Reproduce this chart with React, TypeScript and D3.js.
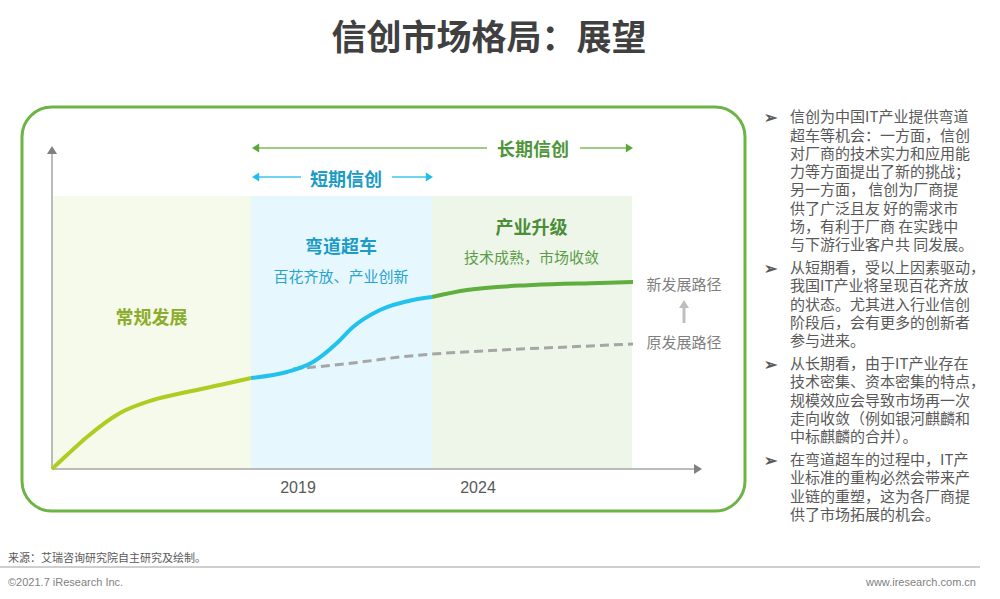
import React from "react";
import * as d3 from "d3";

// ---- data (unitless time / level) ----
const stageNames = ["常规发展", "弯道超车", "产业升级"];
const stageSubs = ["", "百花齐放、产业创新", "技术成熟，市场收敛"];
const stageBounds = [0, 19.9, 38.0, 58.0];

const normalPath: [number, number][] = [
  [0, 0], [1.5, 1.4], [3.5, 3.2], [6.8, 5.6], [10.1, 6.9], [13.5, 7.7], [16.8, 8.4], [19.9, 9.1],
];
const cornerPath: [number, number][] = [
  [19.9, 9.1], [23.5, 9.7], [26.1, 10.7], [28.5, 12.6], [30.1, 14.2], [32.8, 15.9], [36.1, 16.9], [38.0, 17.2],
];
const upgradePath: [number, number][] = [
  [38.0, 17.2], [41.5, 17.9], [48.1, 18.4], [54.8, 18.6], [58.1, 18.7],
];
const originalPath: [number, number][] = [
  [24.1, 10.0], [30.1, 10.6], [34.8, 11.2], [44.8, 11.9], [51.5, 12.2], [58.1, 12.5],
];
const yearTicks = [24.6, 42.6];
const yearLabels = ["2019", "2024"];

const bullets: string[][] = [
  [
    "信创为中国IT产业提供弯道",
    "超车等机会：一方面，信创",
    "对厂商的技术实力和应用能",
    "力等方面提出了新的挑战；",
    "另一方面， 信创为厂商提",
    "供了广泛且友 好的需求市",
    "场，有利于厂商 在实践中",
    "与下游行业客户共 同发展。",
  ],
  [
    "从短期看，受以上因素驱动，",
    "我国IT产业将呈现百花齐放",
    "的状态。尤其进入行业信创",
    "阶段后，会有更多的创新者",
    "参与进来。",
  ],
  [
    "从长期看，由于IT产业存在",
    "技术密集、资本密集的特点，",
    "规模效应会导致市场再一次",
    "走向收敛（例如银河麒麟和",
    "中标麒麟的合并）。",
  ],
  [
    "在弯道超车的过程中，IT产",
    "业标准的重构必然会带来产",
    "业链的重塑，这为各厂商提",
    "供了市场拓展的机会。",
  ],
];

const FONT = '"Noto Sans CJK SC", "Noto Sans", sans-serif';

export default function App() {
  const x = d3.scaleLinear().domain([0, 58]).range([52, 632]);
  const y = d3.scaleLinear().domain([0, 32.2]).range([469, 147]);
  const line = d3
    .line<[number, number]>()
    .x((d) => x(d[0]))
    .y((d) => y(d[1]))
    .curve(d3.curveMonotoneX);

  const stageFill = ["#f6faea", "#e6f8fd", "#eef6ea"];
  const stageTitleColor = ["#8cad2c", "#1b9bc6", "#4b8d39"];
  const stageSubColor = ["", "#2aa3cf", "#5c9c48"];
  const stageTitleY = [318, 247, 228];

  const regionTop = 196;

  // text block layout
  const lineH = 18.3;
  const paraGap = 4.5;
  let cy = 117;
  const paras: { lines: string[]; y: number }[] = [];
  bullets.forEach((p) => {
    paras.push({ lines: p, y: cy });
    cy += lineH * p.length + paraGap;
  });

  const tri = (tx: number, ty: number, dir: "l" | "r" | "u", s: number) => {
    if (dir === "l") return `M${tx},${ty} L${tx + s * 1.6},${ty - s} L${tx + s * 1.6},${ty + s} Z`;
    if (dir === "r") return `M${tx},${ty} L${tx - s * 1.6},${ty - s} L${tx - s * 1.6},${ty + s} Z`;
    return `M${tx},${ty} L${tx - s},${ty + s * 1.6} L${tx + s},${ty + s * 1.6} Z`;
  };

  const x0 = x(stageBounds[0]);
  const x1 = x(stageBounds[1]);
  const x2 = x(stageBounds[2]);
  const x3 = x(stageBounds[3]);

  return (
    <svg
      width={1000}
      height={599}
      style={{ position: "absolute", left: 0, top: 0, fontFamily: FONT }}
    >
      <rect width={1000} height={599} fill="#ffffff" />
      {/* title */}
      <text x={489} y={50} textAnchor="middle" fontSize={35} fontWeight="bold" fill="#404040">
        信创市场格局：展望
      </text>

      {/* frame */}
      <rect x={22} y={107} width={723} height={404} rx={30} ry={30} fill="none" stroke="#6cb445" strokeWidth={3} />

      {/* stage regions */}
      {stageNames.map((n, i) => (
        <rect
          key={n}
          x={x(stageBounds[i])}
          y={regionTop}
          width={x(stageBounds[i + 1]) - x(stageBounds[i])}
          height={y(0) - regionTop}
          fill={stageFill[i]}
        />
      ))}
      {stageNames.map((n, i) => {
        const cx = (x(stageBounds[i]) + x(stageBounds[i + 1])) / 2 + (i === 0 ? 0 : -0.5);
        return (
          <g key={"t" + n}>
            <text x={cx} y={stageTitleY[i]} dy="0.35em" textAnchor="middle" fontSize={18} fontWeight="bold" fill={stageTitleColor[i]}>
              {n}
            </text>
            {stageSubs[i] && (
              <text x={cx} y={stageTitleY[i] + 29.5} dy="0.35em" textAnchor="middle" fontSize={15} fill={stageSubColor[i]}>
                {stageSubs[i]}
              </text>
            )}
          </g>
        );
      })}

      {/* axes */}
      <line x1={x0} y1={y(0)} x2={x0} y2={152} stroke="#a6a6a6" strokeWidth={1.5} />
      <path d={tri(x0, 146, "u", 5)} fill="#808080" />
      <line x1={x0} y1={y(0)} x2={696} y2={y(0)} stroke="#a6a6a6" strokeWidth={1.5} />
      <path d={tri(702, y(0), "r", 5)} fill="#808080" />

      {/* year labels */}
      {yearTicks.map((t, i) => (
        <text key={yearLabels[i]} x={x(t)} y={487} dy="0.35em" textAnchor="middle" fontSize={16} fill="#595959" fontFamily='"Liberation Sans", Arial, sans-serif'>
          {yearLabels[i]}
        </text>
      ))}

      {/* long-term arrow */}
      <line x1={x1 + 6} y1={148} x2={487} y2={148} stroke="#7dbd5c" strokeWidth={1.5} />
      <line x1={580} y1={148} x2={x3 - 6} y2={148} stroke="#7dbd5c" strokeWidth={1.5} />
      <path d={tri(x1 + 1, 148, "l", 4.5)} fill="#5aa83a" />
      <path d={tri(x3 + 1, 148, "r", 4.5)} fill="#5aa83a" />
      <text x={533} y={150} dy="0.35em" textAnchor="middle" fontSize={18} fontWeight="bold" fill="#4e9639">
        长期信创
      </text>

      {/* short-term arrow */}
      <line x1={x1 + 6} y1={177} x2={301} y2={177} stroke="#3ec6ef" strokeWidth={1.5} />
      <line x1={392} y1={177} x2={x2 - 6} y2={177} stroke="#3ec6ef" strokeWidth={1.5} />
      <path d={tri(x1 + 1, 177, "l", 4.5)} fill="#22bdee" />
      <path d={tri(x2 + 1, 177, "r", 4.5)} fill="#22bdee" />
      <text x={346} y={180} dy="0.35em" textAnchor="middle" fontSize={18} fontWeight="bold" fill="#1b9bc6">
        短期信创
      </text>

      {/* curves */}
      <path d={line(originalPath) || ""} fill="none" stroke="#a6a6a6" strokeWidth={3} strokeDasharray="9,5" />
      <path d={line(normalPath) || ""} fill="none" stroke="#b0cc23" strokeWidth={4} />
      <path d={line(cornerPath) || ""} fill="none" stroke="#22c2ef" strokeWidth={4} />
      <path d={line(upgradePath) || ""} fill="none" stroke="#5fae3e" strokeWidth={4} />

      {/* path labels */}
      <text x={684} y={285} dy="0.35em" textAnchor="middle" fontSize={15} fill="#7f7f7f">
        新发展路径
      </text>
      <line x1={684} y1={323} x2={684} y2={307} stroke="#bfbfbf" strokeWidth={3} />
      <path d={tri(684, 300, "u", 5)} fill="#bfbfbf" />
      <text x={684} y={343} dy="0.35em" textAnchor="middle" fontSize={15} fill="#7f7f7f">
        原发展路径
      </text>

      {/* right text */}
      {paras.map((p, i) => (
        <g key={i}>
          <text x={764} y={p.y} dy="0.35em" fontSize={16} fontWeight="bold" fill="#595959">
            ➢
          </text>
          <text x={790} y={p.y} fontSize={15} fill="#595959">
            {p.lines.map((t, j) => (
              <tspan key={j} x={790} y={p.y + j * lineH} dy="0.35em">
                {t}
              </tspan>
            ))}
          </text>
        </g>
      ))}

      {/* footer */}
      <text x={8} y={558} dy="0.35em" fontSize={11} fill="#595959">
        来源：艾瑞咨询研究院自主研究及绘制。
      </text>
      <line x1={0} y1={567} x2={980} y2={567} stroke="#bfbfbf" strokeWidth={1.5} />
      <text x={8} y={582} dy="0.35em" fontSize={11} fill="#7f7f7f" fontFamily='"Liberation Sans", Arial, sans-serif'>
        ©2021.7 iResearch Inc.
      </text>
      <text x={976} y={582} dy="0.35em" textAnchor="end" fontSize={11} fill="#7f7f7f" fontFamily='"Liberation Sans", Arial, sans-serif'>
        www.iresearch.com.cn
      </text>
    </svg>
  );
}
